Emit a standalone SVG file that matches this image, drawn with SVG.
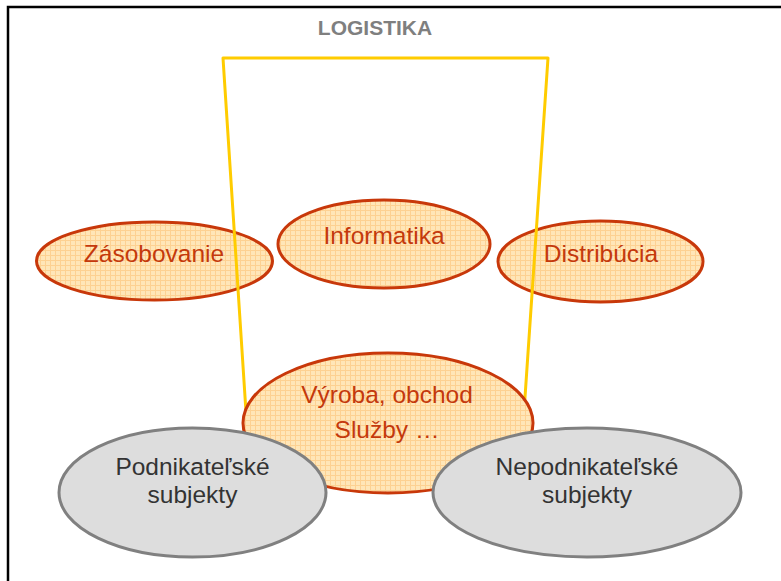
<svg xmlns="http://www.w3.org/2000/svg" width="781" height="581" viewBox="0 0 781 581">
  <defs>
    <!-- fine orange grid used to fill the activity ellipses -->
    <pattern id="grid" width="5" height="5" patternUnits="userSpaceOnUse">
      <rect width="5" height="5" fill="#FFE6B8"/>
      <path d="M0 0.5H5M0.5 0V5" stroke="#FDD192" stroke-width="1" fill="none"/>
    </pattern>
  </defs>
  <style>
    .act { fill: url(#grid); stroke: #C8380A; stroke-width: 3; }
    .act-text { font-family: "Liberation Sans", Arial, sans-serif; font-size: 24.5px; fill: #C4390C; text-anchor: middle; }
    .subj { fill: #DDDDDD; stroke: #808080; stroke-width: 3; }
    .subj-text { font-family: "Liberation Sans", Arial, sans-serif; font-size: 24.5px; fill: #333333; text-anchor: middle; }
    .title { font-family: "Liberation Sans", Arial, sans-serif; font-size: 21px; font-weight: bold; fill: #7F7F7F; text-anchor: middle; }
    .bracket { fill: none; stroke: #FFCC00; stroke-width: 3; stroke-linejoin: round; }
  </style>

  <rect width="781" height="581" fill="#FFFFFF"/>
  <!-- outer frame -->
  <rect x="8" y="7" width="800" height="600" fill="none" stroke="#000000" stroke-width="2.5"/>

  <text class="title" x="375" y="35">LOGISTIKA</text>

  <g id="zasobovanie">
    <ellipse class="act" cx="154.5" cy="261" rx="118" ry="39"/>
    <text class="act-text" x="154" y="262">Zásobovanie</text>
  </g>
  <g id="informatika">
    <ellipse class="act" cx="384" cy="244" rx="106" ry="44"/>
    <text class="act-text" x="384" y="244">Informatika</text>
  </g>
  <g id="distribucia">
    <ellipse class="act" cx="600.5" cy="261.5" rx="102.5" ry="40.5"/>
    <text class="act-text" x="601" y="262">Distribúcia</text>
  </g>

  <!-- logistics bracket spanning the activities -->
  <g id="connectors">
    <polyline class="bracket" points="246,412 223,58 548,58 524,412"/>
  </g>

  <g id="vyroba">
    <ellipse class="act" cx="388" cy="423" rx="145" ry="70"/>
    <text class="act-text" x="387" y="403">Výroba, obchod</text>
    <text class="act-text" x="387" y="438">Služby …</text>
  </g>

  <g id="podnikatelske">
    <ellipse class="subj" cx="192.5" cy="492.5" rx="133.5" ry="64.5"/>
    <text class="subj-text" x="192.5" y="475">Podnikateľské</text>
    <text class="subj-text" x="192.5" y="503">subjekty</text>
  </g>
  <g id="nepodnikatelske">
    <ellipse class="subj" cx="587" cy="492.5" rx="154" ry="64.5"/>
    <text class="subj-text" x="587" y="475">Nepodnikateľské</text>
    <text class="subj-text" x="587" y="503">subjekty</text>
  </g>
</svg>
